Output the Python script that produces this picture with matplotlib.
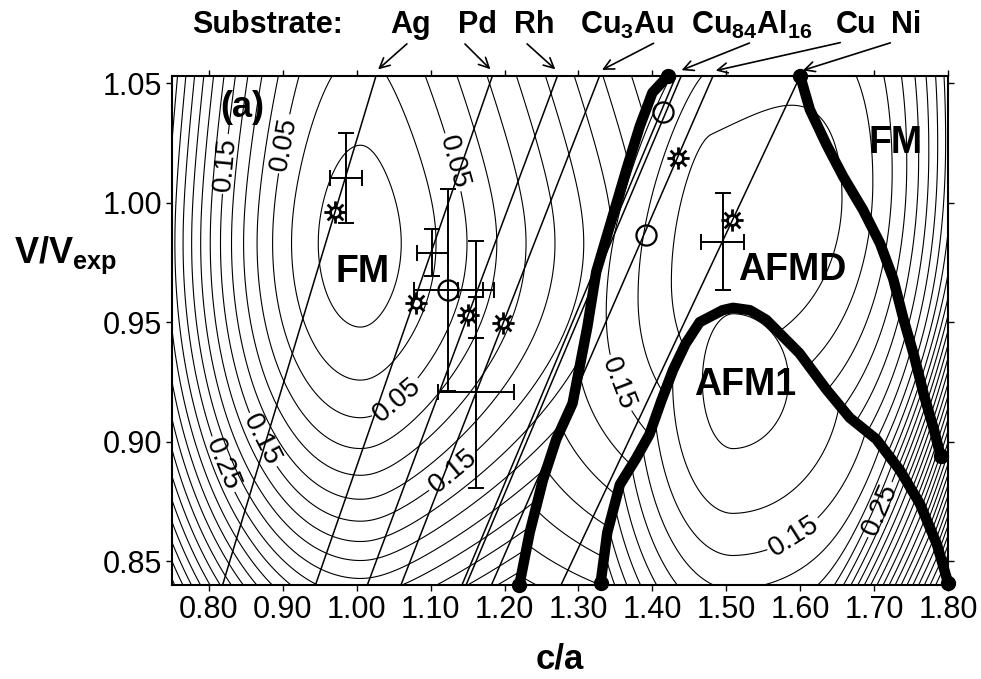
import numpy as np
import matplotlib
matplotlib.use("Agg")
import matplotlib.pyplot as plt
from matplotlib.path import Path

plt.rcParams['font.family'] = ['Liberation Sans', 'DejaVu Sans']
plt.rcParams['mathtext.fontset'] = 'custom'
plt.rcParams['mathtext.rm'] = 'Liberation Sans'
plt.rcParams['mathtext.bf'] = 'Liberation Sans:bold'

# --- phase boundaries (thick lines) ---
fm_afmd_x = [1.220, 1.234, 1.252, 1.270, 1.292, 1.312, 1.324, 1.346, 1.365, 1.383, 1.400, 1.412, 1.421]
fm_afmd_y = [0.840, 0.862, 0.884, 0.901, 0.916, 0.948, 0.971, 0.994, 1.014, 1.032, 1.046, 1.050, 1.053]
afm1_x = [1.330, 1.339, 1.356, 1.378, 1.396, 1.412, 1.428, 1.445, 1.464, 1.495, 1.509, 1.532,
          1.554, 1.599, 1.635, 1.667, 1.703, 1.735, 1.762, 1.785, 1.800]
afm1_y = [0.841, 0.862, 0.882, 0.893, 0.903, 0.917, 0.930, 0.941, 0.950, 0.955, 0.956, 0.955,
          0.951, 0.937, 0.922, 0.910, 0.901, 0.888, 0.874, 0.857, 0.841]
afmd_fm_x = [1.600, 1.613, 1.636, 1.658, 1.685, 1.708, 1.726, 1.740, 1.754, 1.767, 1.781, 1.790]
afmd_fm_y = [1.053, 1.039, 1.024, 1.011, 0.997, 0.983, 0.968, 0.951, 0.936, 0.920, 0.905, 0.894]

# --- substrate lines: V/Vexp = s * c/a, c/a where they meet the upper axis ---
subs_top_ca = [1.026, 1.1835, 1.2715, 1.3285, 1.432, 1.439, 1.482, 1.600]

# --- experimental points ---
sun_x = [0.970, 1.080, 1.150, 1.1974, 1.4346, 1.508]
sun_y = [0.996, 0.9579, 0.953, 0.9495, 1.0186, 0.9928]
circ_x = [1.1235, 1.414, 1.392]
circ_y = [0.9634, 1.0381, 0.9865]
eb_x = [0.985, 1.102, 1.1238, 1.161, 1.161, 1.495]
eb_y = [1.0103, 0.979, 0.9634, 0.9206, 0.9636, 0.9837]
eb_xerr = [0.0215, 0.021, 0.0465, 0.0515, 0.0244, 0.029]
eb_yerr = [0.0187, 0.0098, 0.0424, 0.040, 0.0204, 0.0203]

# --- energy model (contour field), parameters estimated from the contour spacing ---
fm_min = (1.005, 0.983, -0.015)
afm1_min = (1.510, 0.925, 0.090)
afmd_min = (1.480, 0.978, 0.080)
all_levels = np.round(np.arange(0.0, 1.0, 0.025), 4)
lab_levels = [0.05, 0.15, 0.25]
plain_levels = [v for v in all_levels if min(abs(v - l) for l in lab_levels) > 1e-6]

xg = np.linspace(0.75, 1.80, 600)
yg = np.linspace(0.840, 1.053, 450)
X, Y = np.meshgrid(xg, yg)


def soft(d, w, a):
    return a * (np.sqrt(1 + (d / w) ** 2) - 1)


# steep wall toward large c/a and small volume (lower right corner), pixel units
px = (X - 0.75) * 738 + 172
qy = (Y - 0.84) * 2388
u = 0.933 * (px - 833) - 0.359 * qy
wall = 0.0036 * (np.sqrt(u ** 2 + 15 ** 2) + u) / 2

dx = X - fm_min[0]
dy = Y - fm_min[1]
E_fm = fm_min[2] + np.where(dx < 0, 4.6 * dx ** 2, soft(dx, 0.055, 0.036)) \
    + np.where(dy < 0, 12.2 * dy ** 2, soft(dy, 0.03, 0.0216))

dx = X - afm1_min[0]
dy = Y - afm1_min[1]
E_afm1 = afm1_min[2] + np.where(dx < 0, 5.0 * dx ** 2, 1.5 * dx ** 2) + 11.0 * dy ** 2 + wall

dx = X - afmd_min[0]
dy = Y - (afmd_min[1] + 0.15 * (X - 1.5))
E_afmd = afmd_min[2] + np.where(dx < 0, soft(dx, 0.03, 0.018), 19.0 * dx ** 4) \
    + np.where(dy < 0, 9.5 * dy ** 2, 6.7 * dy ** 2) + wall

# regions split by the thick lines
in_fm = X < np.interp(Y, fm_afmd_y, fm_afmd_x)
y_dome = np.where(X >= afm1_x[0], np.interp(X, afm1_x, afm1_y), -1)
in_afm1 = (~in_fm) & (Y < y_dome)
in_afmd = ~(in_fm | in_afm1)

fig = plt.figure(figsize=(9.81, 6.79), dpi=100)
ax = fig.add_axes([172 / 981, 1 - 585 / 679, 776 / 981, 509 / 679])

lab = dict(inline=True, fmt='%.2f', fontsize=20, inline_spacing=3)
label_pos = {
    'fm': [(0.809, 1.0166), (0.895, 1.025), (1.143, 1.018), (1.057, 0.9167),
           (0.868, 0.900), (0.807, 0.889), (1.139, 0.884)],
    'afmd': [(1.3375, 0.9223)],
    'afm1': [(1.572, 0.870), (1.712, 0.871)],
}
for key, E, reg in [('fm', E_fm, in_fm), ('afmd', E_afmd, in_afmd), ('afm1', E_afm1, in_afm1)]:
    Em = np.ma.masked_where(~reg, E)
    ax.contour(X, Y, Em, levels=plain_levels, colors='k', linewidths=0.8)
    cl = ax.contour(X, Y, Em, levels=lab_levels, colors='k', linewidths=0.8)
    ax.clabel(cl, manual=label_pos[key], **lab)

# substrate lines through the origin
ca = np.array([0.0, 2.0])
for xt in subs_top_ca:
    ax.plot(ca, 1.053 / xt * ca, color='k', lw=1.1)

# thick boundaries
for bx, by in [(fm_afmd_x, fm_afmd_y), (afm1_x, afm1_y), (afmd_fm_x, afmd_fm_y)]:
    ax.plot(bx, by, color='k', lw=7.5, solid_capstyle='round', solid_joinstyle='round',
            clip_on=False)
    ax.plot([bx[0], bx[-1]], [by[0], by[-1]], ls='none', marker='o', ms=10, color='k',
            clip_on=False)

# markers
circle = Path.circle(radius=0.45)
spokes_v, spokes_c = [], []
for k in range(8):
    t = k * np.pi / 4
    spokes_v += [(0.55 * np.cos(t), 0.55 * np.sin(t)), (1.0 * np.cos(t), 1.0 * np.sin(t))]
    spokes_c += [Path.MOVETO, Path.LINETO]
sun = Path.make_compound_path(circle, Path(spokes_v, spokes_c))

ax.errorbar(eb_x, eb_y, xerr=eb_xerr, yerr=eb_yerr, fmt='none', ecolor='k',
            elinewidth=1.4, capsize=6, capthick=1.4)
ax.plot(sun_x, sun_y, ls='none', marker=sun, ms=16, mfc='none', mec='k', mew=2.0)
ax.plot(circ_x, circ_y, ls='none', marker='o', ms=14.5, mfc='none', mec='k', mew=1.6)

bold = dict(fontweight='bold', ha='center', va='center')
ax.text(0.845, 1.040, '(a)', fontsize=26, **bold)
ax.text(1.008, 0.971, 'FM', fontsize=27, **bold)
ax.text(1.589, 0.9718, 'AFMD', fontsize=27, **bold)
ax.text(1.525, 0.9237, 'AFM1', fontsize=27, **bold)
ax.text(1.729, 1.0249, 'FM', fontsize=27, **bold)

ax.set_xlim(0.75, 1.80)
ax.set_ylim(0.840, 1.053)
xt = np.arange(0.8, 1.81, 0.1)
ax.set_xticks(xt)
ax.set_xticklabels(['%.2f' % v for v in xt])
ax.set_yticks([0.85, 0.90, 0.95, 1.00, 1.05])
ax.set_yticklabels(['0.85', '0.90', '0.95', '1.00', '1.05'])
ax.tick_params(labelsize=22, width=1, length=4, direction='out', top=True, right=True, pad=3)
for sp in ax.spines.values():
    sp.set_linewidth(1.5)

ax.set_xlabel('c/a', fontsize=25, fontweight='bold', labelpad=13)
fig.text(14 / 981, 1 - 255 / 679, r'V/V$_{\mathbf{exp}}$', fontsize=26, fontweight='bold',
         ha='left', va='center')

# substrate labels and arrows
fig.text(267 / 981, 1 - 25 / 679, 'Substrate:', fontsize=22, fontweight='bold', ha='center', va='center')
names = ['Ag', 'Pd', 'Rh', r'Cu$_{\mathbf{3}}$Au', r'Cu$_{\mathbf{84}}$Al$_{\mathbf{16}}$', 'Cu', 'Ni']
name_px = [411, 478, 534, 627, 752, 856, 906]
arrow_tail = [(409, 42), (463, 42), (525, 42), (656, 42), (752, 42), (843, 42), (893, 42)]
arrow_ca = [1.026, 1.1835, 1.2715, 1.3285, 1.436, 1.482, 1.600]
for nm, pxl in zip(names, name_px):
    fig.text(pxl / 981, 1 - 25 / 679, nm, fontsize=22, fontweight='bold', ha='center', va='center')
for (tx, ty), xc_ in zip(arrow_tail, arrow_ca):
    ax.annotate('', xy=(xc_, 1.055), xycoords='data',
                xytext=(tx / 981, 1 - ty / 679), textcoords='figure fraction',
                arrowprops=dict(arrowstyle='->', color='k', lw=1.2, mutation_scale=18),
                annotation_clip=False)

fig.savefig('out.png', dpi=100)
